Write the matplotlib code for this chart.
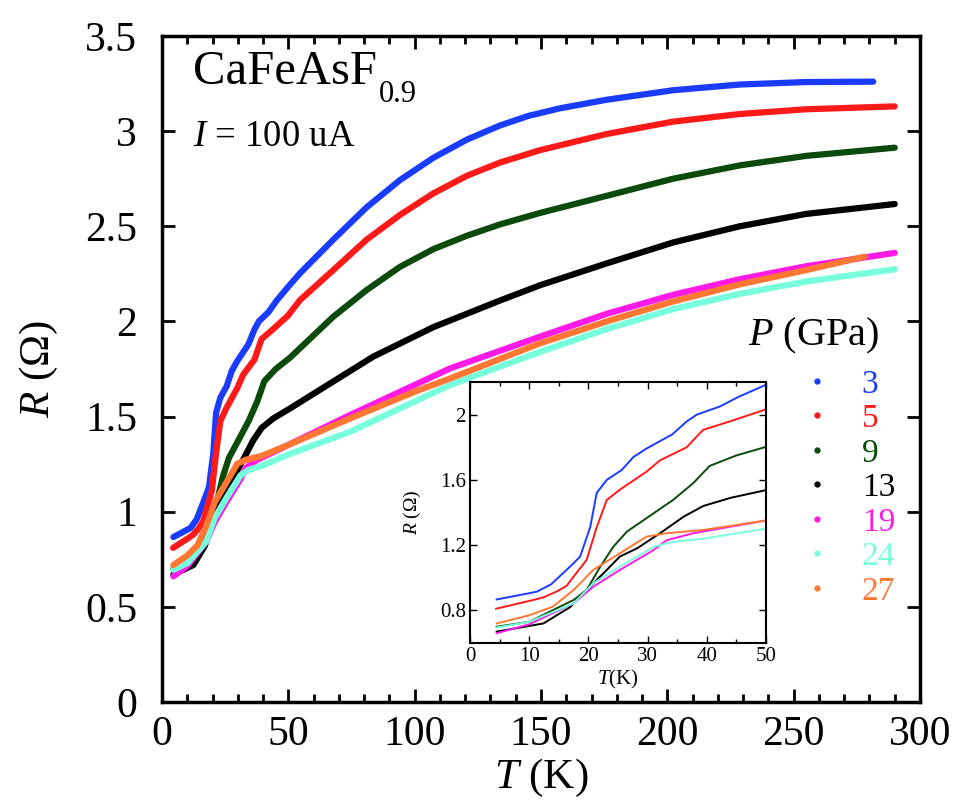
import matplotlib
matplotlib.use("Agg")
import matplotlib.pyplot as plt
from matplotlib.lines import Line2D
from matplotlib.ticker import MultipleLocator, FormatStrFormatter

plt.rcParams['font.family'] = ['Liberation Serif', 'DejaVu Serif']
plt.rcParams['mathtext.fontset'] = 'custom'
plt.rcParams['mathtext.rm'] = 'Liberation Serif'
plt.rcParams['mathtext.it'] = 'Liberation Serif:italic'

# pressures (GPa) and colours
pressures = ['3', '5', '9', '13', '19', '24', '27']
colors = ['#1a3cff', '#ff1a1a', '#0a4a0a', '#000000', '#ff1ae6', '#78ffdc', '#ff7733']

# R(T) curves, T in K, R in Ohm
T_3 = [4.5, 9.8, 11.3, 13.7, 16.3, 17.7, 18.6, 20.3, 21.4, 23.1, 25.6, 27.6, 29.7, 34.2, 36.6, 38.3,
       42.2, 45.4, 49.8, 54.6, 67.8, 81, 94.2, 107.4, 120.6, 133.8, 145, 157.5, 176, 202.3, 228.7, 255, 281.5]
R_3 = [0.867, 0.904, 0.915, 0.96, 1.048, 1.097, 1.13, 1.31, 1.52, 1.60, 1.66, 1.74, 1.79, 1.88, 1.958, 2.0,
       2.05, 2.11, 2.18, 2.253, 2.43, 2.60, 2.743, 2.86, 2.955, 3.03, 3.08, 3.12, 3.165, 3.215, 3.245, 3.258, 3.26]

T_5 = [4.4, 10.7, 12.4, 14.6, 16.3, 17.5, 19.7, 21.4, 23.1, 25.3, 29.8, 32.1, 36.6, 38.3, 39.4, 44, 49.8,
       54.6, 67.8, 81, 94.2, 107.4, 120.6, 133.8, 149.6, 176, 202.3, 228.7, 255, 290]
R_5 = [0.81, 0.864, 0.88, 0.915, 0.95, 1.007, 1.11, 1.31, 1.477, 1.54, 1.65, 1.72, 1.80, 1.866, 1.907, 1.96, 2.03,
       2.112, 2.27, 2.43, 2.56, 2.673, 2.765, 2.835, 2.90, 2.985, 3.05, 3.09, 3.115, 3.13]

T_9 = [4.5, 10, 17.5, 19.7, 22, 24.2, 26.5, 31, 34.3, 37.7, 40.5, 45, 50.7,
       67.8, 81, 94.2, 107.4, 120.6, 133.8, 149.6, 176, 202.3, 228.7, 255, 290]
R_9 = [0.70, 0.73, 0.864, 0.925, 1.068, 1.19, 1.283, 1.395, 1.477, 1.58, 1.686, 1.75, 1.81,
       2.025, 2.165, 2.287, 2.38, 2.45, 2.51, 2.57, 2.66, 2.75, 2.82, 2.87, 2.913]

T_13 = [4.5, 12.4, 16.9, 19.7, 23.1, 25.3, 28.2, 32.1, 36.1, 39.4, 44, 50.7,
        61.2, 83.6, 107.4, 133.8, 149.6, 176, 202.3, 228.7, 255, 290]
R_13 = [0.67, 0.72, 0.82, 0.925, 1.048, 1.13, 1.18, 1.273, 1.375, 1.44, 1.49, 1.543,
        1.63, 1.815, 1.97, 2.11, 2.19, 2.305, 2.415, 2.50, 2.565, 2.617]

T_19 = [4.5, 10, 17.5, 20.8, 25.3, 31, 33.2, 37.7, 49.8, 74.4, 114, 149.6, 176, 202.3, 228.7, 255, 290]
R_19 = [0.66, 0.715, 0.843, 0.945, 1.048, 1.17, 1.23, 1.273, 1.35, 1.508, 1.753, 1.92, 2.04, 2.14, 2.222, 2.29, 2.36]

T_24 = [4.5, 10, 17.5, 20.8, 25.3, 31, 34.3, 39.4, 49.8, 74.4, 114, 149.6, 176, 202.3, 228.7, 255, 290]
R_24 = [0.695, 0.73, 0.843, 0.966, 1.068, 1.19, 1.22, 1.24, 1.30, 1.42, 1.666, 1.84, 1.96, 2.065, 2.145, 2.21, 2.274]

T_27 = [4.5, 10, 14, 17.5, 20.8, 25.3, 29.8, 33.2, 39.4, 49.8, 74.4, 100.8, 114, 149.6, 176, 202.3, 228.7, 255, 278]
R_27 = [0.72, 0.77, 0.823, 0.925, 1.048, 1.15, 1.252, 1.273, 1.293, 1.35, 1.49, 1.635, 1.70, 1.885, 2.0, 2.105, 2.195, 2.27, 2.34]

curves = [(T_3, R_3), (T_5, R_5), (T_9, R_9), (T_13, R_13), (T_19, R_19), (T_24, R_24), (T_27, R_27)]

fig = plt.figure(figsize=(9.61, 8.07), dpi=100)
ax = fig.add_axes([0.1686, 0.1301, 0.7887, 0.8253])

for (t, r), c in zip(curves, colors):
    ax.plot(t, r, color=c, lw=4.5, solid_capstyle='round', solid_joinstyle='round')

ax.set_xlim(0, 300)
ax.set_ylim(0, 3.5)
ax.xaxis.set_major_locator(MultipleLocator(50))
ax.xaxis.set_minor_locator(MultipleLocator(10))
ax.yaxis.set_major_locator(MultipleLocator(0.5))
ax.yaxis.set_major_formatter(FormatStrFormatter('%g'))
ax.tick_params(which='both', direction='in', top=True, right=True, labelsize=30, width=2)
ax.tick_params(which='major', length=9.5, pad=10)
ax.tick_params(which='minor', length=5.5)
ax.tick_params(axis='y', pad=18)
for s in ax.spines.values():
    s.set_linewidth(2.5)
ax.set_xlabel(r'$T$ (K)', fontsize=31, labelpad=2)
ax.set_ylabel(r'$R$ ($\Omega$)', fontsize=31, labelpad=18)

title = ax.text(0.041, 0.928, 'CaFeAsF', transform=ax.transAxes, fontsize=35, va='baseline')
ax.annotate('0.9', xy=(1, 0), xycoords=title, xytext=(1, -6), textcoords='offset points',
            fontsize=22, va='baseline', ha='left')
ax.text(0.041, 0.835, r'$I$ = 100 uA', transform=ax.transAxes, fontsize=26.5, va='baseline')
ax.text(0.773, 0.536, r'$P$ (GPa)', transform=ax.transAxes, fontsize=29, va='baseline')

handles = [Line2D([], [], ls='none', marker='o', ms=3.5, color=c) for c in colors]
leg = ax.legend(handles, pressures, loc='upper left', bbox_to_anchor=(0.855, 0.50), frameon=False,
                fontsize=24, handlelength=0.4, handletextpad=1.15, labelspacing=0.12, borderpad=0,
                borderaxespad=0, labelcolor=colors)

# inset, low temperature part
axi = fig.add_axes([0.4891, 0.2032, 0.308, 0.3234])
for (t, r), c in zip(curves, colors):
    axi.plot(t, r, color=c, lw=1.4)
axi.set_xlim(0, 50)
axi.set_ylim(0.6, 2.2)
axi.xaxis.set_major_locator(MultipleLocator(10))
axi.xaxis.set_minor_locator(MultipleLocator(5))
axi.yaxis.set_major_locator(MultipleLocator(0.4))
axi.yaxis.set_major_formatter(FormatStrFormatter('%g'))
axi.tick_params(which='both', direction='in', top=True, right=True, labelsize=15, width=1)
axi.tick_params(which='major', length=5, pad=3)
axi.tick_params(which='minor', length=3)
for s in axi.spines.values():
    s.set_linewidth(1.5)
axi.set_xlabel(r'$T$(K)', fontsize=15, labelpad=1)
axi.set_ylabel(r'$R$ ($\Omega$)', fontsize=14, labelpad=12)

fig.savefig('out.png', dpi=100)
